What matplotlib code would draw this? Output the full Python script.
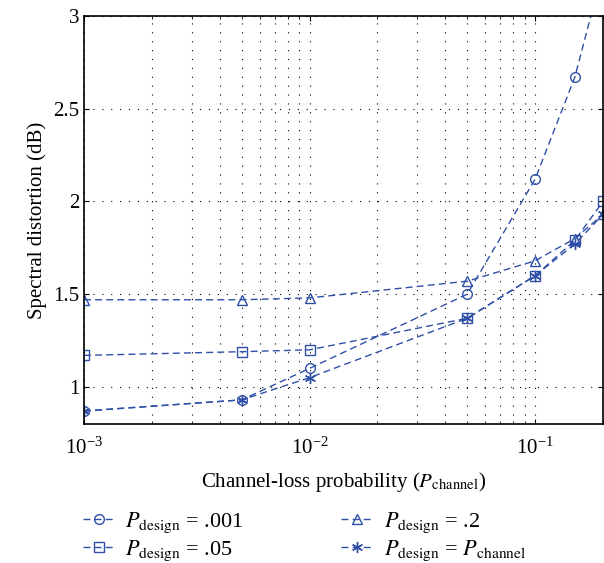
import matplotlib
matplotlib.use('Agg')
import matplotlib.pyplot as plt

plt.rcParams['font.family'] = ['Liberation Serif', 'DejaVu Serif']
plt.rcParams['mathtext.fontset'] = 'stix'

p_channel = [0.001, 0.005, 0.01, 0.05, 0.1, 0.15, 0.2]
d_001 = [0.87, 0.93, 1.10, 1.50, 2.12, 2.67, 3.25]
d_05 = [1.17, 1.19, 1.20, 1.37, 1.60, 1.79, 2.00]
d_2 = [1.47, 1.47, 1.48, 1.57, 1.68, 1.80, 1.93]
d_match = [0.87, 0.93, 1.05, 1.37, 1.60, 1.77, 1.93]

labels = [r'$P_{\mathrm{design}}$ = .001', r'$P_{\mathrm{design}}$ = .05',
          r'$P_{\mathrm{design}}$ = .2', r'$P_{\mathrm{design}}$ = $P_{\mathrm{channel}}$']
markers = ['o', 's', '^', (6, 2, 0)]
color = '#3050a8'

fig = plt.figure(figsize=(6.04, 5.63), dpi=100)
ax = fig.add_axes([84/604, 1 - 424/563, 519/604, 408/563])

for y, m, lab in zip([d_001, d_05, d_2, d_match], markers, labels):
    ms = 8 if m == (6, 2, 0) else 7
    ax.plot(p_channel, y, linestyle='--', dashes=(5, 3), color=color, linewidth=1,
            marker=m, markersize=ms, markerfacecolor='none', markeredgecolor=color,
            markeredgewidth=1, label=lab)

ax.set_xscale('log')
ax.set_xlim(1e-3, 0.2)
ax.set_ylim(0.8, 3)
ax.set_yticks([1, 1.5, 2, 2.5, 3])
ax.set_yticklabels(['1', '1.5', '2', '2.5', '3'])
ax.grid(True, which='major', linestyle=(0, (1, 7)), color='black', linewidth=0.8)
ax.grid(True, which='minor', axis='x', linestyle=(0, (1, 7)), color='black', linewidth=0.8)
ax.tick_params(which='both', direction='in', top=True, right=True, labelsize=15)
ax.tick_params(axis='x', pad=10)
for s in ax.spines.values():
    s.set_linewidth(1.2)

ax.set_xlabel(r'Channel-loss probability ($P_{\mathrm{channel}}$)', fontsize=15, labelpad=8)
ax.set_ylabel('Spectral distortion (dB)', fontsize=15)

fig.legend(loc='lower left', bbox_to_anchor=(63/604, -0.035), ncol=2, frameon=False,
           fontsize=16, columnspacing=4.4, handlelength=1.4, handletextpad=0.5,
           labelspacing=0.15)

fig.savefig('out.png', dpi=100)
